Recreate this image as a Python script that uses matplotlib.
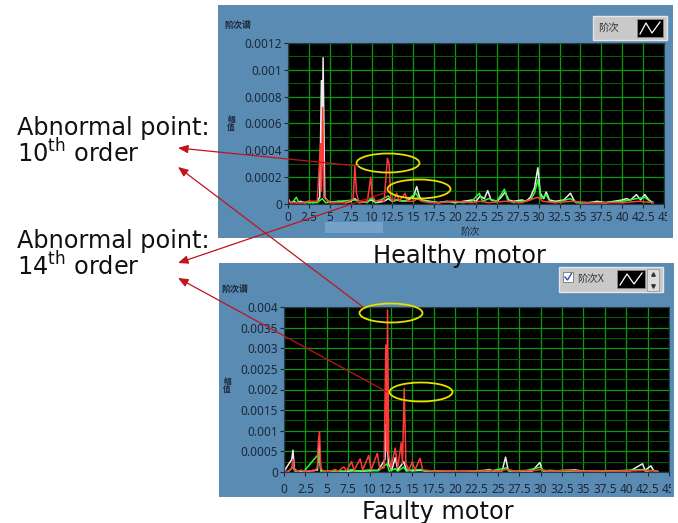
"""Healthy vs faulty motor order spectra (LabVIEW-style panels), output PNG."""

import matplotlib
matplotlib.use("Agg")
import matplotlib.pyplot as plt
from matplotlib.patches import Rectangle, Ellipse
from matplotlib.ticker import MultipleLocator, FuncFormatter

plt.rcParams["font.family"] = ["Noto Sans", "Noto Sans CJK SC", "DejaVu Sans"]
plt.rcParams["mathtext.fontset"] = "custom"
plt.rcParams["mathtext.rm"] = "DejaVu Sans"

# ── data: healthy motor (top panel) ───────────────────────────────────────────
healthy_white_order = [0, 0.3, 0.7, 1.0, 1.5, 2.0, 2.5, 3.0, 3.5, 3.8, 4.0, 4.1, 4.2, 4.4,
                       4.8, 5.5, 6.0, 7.0, 7.5, 8.0, 8.5, 9.5, 10.0, 10.5, 11.5, 12.0,
                       12.5, 13.0, 14.0, 15.0, 15.4, 15.7, 16.0, 17.0, 18.0, 19.0, 20.0,
                       21.0, 22.0, 22.5, 23.0, 23.5, 23.9, 24.3, 25.0, 25.5, 26.0, 26.4,
                       27.0, 28.0, 28.5, 29.0, 29.5, 29.9, 30.2, 30.6, 30.9, 31.3, 32.0,
                       33.0, 33.8, 34.3, 35.0, 36.0, 37.0, 38.0, 39.0, 40.0, 40.5, 41.0,
                       41.7, 42.2, 42.7, 43.2, 43.7]
healthy_white_amp = [4e-5, 1e-5, 2e-5, 1e-5, 2e-5, 1e-5, 2e-5, 1e-5, 2e-5, 5e-5, 9.2e-4, 3e-4,
                     1.09e-3, 5e-5, 2e-5, 1e-5, 2e-5, 1e-5, 2e-5, 4e-5, 1e-5, 2e-5, 3e-5, 1e-5,
                     2e-5, 4e-5, 2e-5, 3e-5, 2e-5, 5e-5, 1.3e-4, 6e-5, 3e-5, 2e-5, 1e-5, 2e-5,
                     1e-5, 2e-5, 3e-5, 2e-5, 6e-5, 4e-5, 1.0e-4, 3e-5, 2e-5, 5e-5, 9e-5, 3e-5,
                     2e-5, 3e-5, 2e-5, 5e-5, 1.2e-4, 2.7e-4, 8e-5, 4e-5, 9e-5, 3e-5, 2e-5,
                     3e-5, 8e-5, 2e-5, 1e-5, 1e-5, 2e-5, 1e-5, 2e-5, 3e-5, 4e-5, 3e-5,
                     7e-5, 3e-5, 7e-5, 3e-5, 1e-5]

healthy_green_order = [0.5, 1.0, 1.3, 2.0, 3.5, 4.1, 4.5, 6.0, 8.0, 9.5, 10.0, 10.5, 12.0,
                       12.5, 13.0, 14.0, 15.3, 15.8, 16.5, 18.0, 19.5, 21.0, 22.0, 22.9,
                       23.3, 24.0, 25.0, 25.9, 26.3, 27.0, 28.0, 29.0, 29.5, 29.9, 30.3,
                       30.9, 31.3, 32.0, 33.8, 34.5, 36.0, 38.0, 40.0, 41.7, 42.7, 43.5]
healthy_green_amp = [1e-5, 5e-5, 1e-5, 1e-5, 1e-5, 4e-5, 1e-5, 2e-5, 3e-5, 1e-5, 5e-5, 1e-5,
                     6e-5, 2e-5, 3e-5, 2e-5, 8e-5, 3e-5, 2e-5, 1e-5, 2e-5, 1e-5, 2e-5, 8e-5,
                     2e-5, 4e-5, 2e-5, 1.1e-4, 3e-5, 1e-5, 2e-5, 3e-5, 8e-5, 1.8e-4, 4e-5,
                     7e-5, 2e-5, 1e-5, 4e-5, 1e-5, 1e-5, 1e-5, 2e-5, 4e-5, 5e-5, 1e-5]

healthy_red_order = [0, 0.5, 1.5, 2.5, 3.5, 3.9, 4.0, 4.15, 4.3, 5.0, 6.0, 7.0, 7.8, 8.0,
                     8.2, 8.5, 9.5, 9.9, 10.1, 10.5, 11.0, 11.5, 11.9, 12.1, 12.3, 12.6,
                     13.0, 13.3, 14.0, 14.3, 15.0, 15.5, 16.0, 17.0, 18.0, 20.0, 22.0,
                     23.0, 24.0, 26.0, 28.0, 29.9, 30.5, 32.0, 34.0, 36.0, 40.0, 42.0, 43.7]
healthy_red_amp = [2e-5, 1e-5, 1e-5, 2e-5, 2e-5, 4.5e-4, 1e-4, 7.2e-4, 5e-5, 1e-5, 1e-5, 1e-5,
                   4e-5, 2.8e-4, 8e-5, 1e-5, 2e-5, 2.0e-4, 6e-5, 2e-5, 3e-5, 2e-5, 3.4e-4,
                   3.0e-4, 4e-5, 2e-5, 8e-5, 2e-5, 8e-5, 2e-5, 2e-5, 4e-5, 2e-5, 1e-5, 1e-5,
                   2e-5, 1e-5, 2e-5, 1e-5, 2e-5, 1e-5, 5e-5, 2e-5, 1e-5, 2e-5, 1e-5, 1e-5,
                   2e-5, 1e-5]

# ── data: faulty motor (bottom panel) ─────────────────────────────────────────
faulty_white_order = [0, 0.9, 1.05, 1.2, 1.6, 2.5, 3.9, 4.1, 4.3, 5.0, 6.0, 7.0, 8.0, 9.0,
                      10.0, 11.0, 11.8, 11.95, 12.05, 12.2, 12.6, 13.0, 13.3, 14.0, 14.3,
                      15.0, 16.0, 17.0, 18.0, 20.0, 22.0, 23.5, 24.0, 24.5, 25.5, 25.9,
                      26.2, 27.0, 28.0, 29.0, 29.9, 30.2, 31.0, 32.0, 33.0, 34.0, 35.0,
                      37.0, 39.0, 40.5, 41.9, 42.2, 42.9, 43.2, 43.7]
faulty_white_amp = [2e-5, 3e-4, 5.3e-4, 8e-5, 1e-5, 1e-5, 5e-5, 7e-4, 4e-5, 1e-5, 3e-5, 1e-5,
                    3e-5, 2e-5, 3e-5, 4e-5, 3e-4, 1.16e-3, 1.0e-3, 2e-4, 5e-5, 3.5e-4, 5e-5,
                    2.5e-4, 5e-5, 3e-5, 4e-5, 2e-5, 2e-5, 1e-5, 2e-5, 4e-5, 6e-5, 2e-5, 3e-5,
                    3.6e-4, 5e-5, 2e-5, 3e-5, 2e-5, 2.3e-4, 4e-5, 2e-5, 3e-5, 4e-5, 5e-5,
                    2e-5, 2e-5, 3e-5, 3e-5, 2e-4, 4e-5, 1.5e-4, 3e-5, 1e-5]

faulty_green_order = [0.5, 1.05, 1.3, 2.0, 2.3, 4.1, 4.3, 5.0, 6.0, 7.0, 8.0, 8.3, 9.0,
                      10.0, 11.0, 12.05, 12.3, 13.0, 13.3, 14.0, 14.3, 15.0, 16.0, 16.5,
                      18.0, 19.0, 20.0, 22.0, 24.0, 26.0, 26.3, 28.0, 30.0, 30.3, 31.0,
                      33.0, 35.0, 38.0, 42.0, 42.3, 43.0, 43.7]
faulty_green_amp = [1e-5, 1.2e-4, 1e-5, 4e-5, 1e-5, 4.5e-4, 2e-5, 1e-5, 3e-5, 2e-5, 6e-5,
                    1e-5, 3e-5, 5e-5, 3e-5, 2e-4, 2e-5, 8e-5, 2e-5, 1.2e-4, 2e-5, 5e-5,
                    6e-5, 1e-5, 3e-5, 1e-5, 2e-5, 1e-5, 2e-5, 1e-4, 1e-5, 2e-5, 1.2e-4,
                    2e-5, 4e-5, 2e-5, 1e-5, 2e-5, 6e-5, 1e-5, 4e-5, 1e-5]

faulty_red_order = [0, 0.5, 0.9, 1.05, 1.2, 1.6, 2.0, 2.5, 3.0, 3.5, 3.9, 4.0, 4.15, 4.3,
                    4.6, 5.2, 6.0, 6.3, 7.0, 7.3, 7.9, 8.2, 8.9, 9.2, 9.9, 10.2, 10.9,
                    11.2, 11.7, 11.9, 12.0, 12.1, 12.25, 12.5, 13.0, 13.3, 13.7, 13.85,
                    14.05, 14.25, 14.6, 15.0, 15.3, 15.9, 16.2, 16.8, 17.5, 18.5, 20.0,
                    21.0, 22.0, 23.0, 24.0, 25.0, 26.0, 27.0, 28.0, 29.0, 30.0, 31.0,
                    32.0, 33.0, 34.0, 35.0, 36.0, 37.0, 38.0, 39.0, 40.0, 41.0, 42.0,
                    43.0, 43.7]
faulty_red_amp = [3e-5, 2e-5, 1e-4, 3e-4, 5e-5, 2e-5, 4e-5, 2e-5, 3e-5, 2e-5, 1e-4, 7e-4,
                  9.8e-4, 1e-4, 2e-5, 1e-5, 6e-5, 2e-5, 1.2e-4, 3e-5, 2.5e-4, 4e-5, 3.2e-4,
                  5e-5, 4e-4, 6e-5, 4.5e-4, 8e-5, 1e-4, 3.08e-3, 5e-4, 3.93e-3, 4e-4, 1e-4,
                  5.8e-4, 1e-4, 7.1e-4, 2e-4, 2.03e-3, 2e-4, 5e-5, 2.5e-4, 5e-5, 3.3e-4,
                  5e-5, 4e-5, 2e-5, 3e-5, 2e-5, 2e-5, 3e-5, 2e-5, 4e-5, 2e-5, 6e-5, 2e-5,
                  4e-5, 3e-5, 6e-5, 2e-5, 3e-5, 4e-5, 3e-5, 2e-5, 2e-5, 3e-5, 2e-5, 2e-5,
                  3e-5, 3e-5, 4e-5, 3e-5, 1e-5]

# ── 畫布 (pixel helpers) ──────────────────────────────────────────────────────
W, H = 678, 523
PANEL_BLUE = "#5a8bb3"
TXT = "#1b2838"


def frac(x0, y0, x1, y1):
    return [x0 / W, 1 - y1 / H, (x1 - x0) / W, (y1 - y0) / H]


fig = plt.figure(figsize=(W / 100, H / 100), dpi=100)
fig.patch.set_facecolor("white")

bg = fig.add_axes([0, 0, 1, 1], zorder=-1)
bg.set_xlim(0, W); bg.set_ylim(H, 0); bg.axis("off")
fg = fig.add_axes([0, 0, 1, 1], zorder=5)
fg.set_xlim(0, W); fg.set_ylim(H, 0); fg.axis("off")
fg.patch.set_alpha(0)

bg.add_patch(Rectangle((218, 5), 455, 233, facecolor=PANEL_BLUE, edgecolor="none"))
bg.add_patch(Rectangle((219, 263), 455, 234, facecolor=PANEL_BLUE, edgecolor="none"))
bg.add_patch(Rectangle((325, 222), 58, 11, facecolor="#74a2c9", edgecolor="none"))
# tick labels are cut a little beyond the plot area, as in LabVIEW
clip_top = Rectangle((218, 5), 449, 233, transform=bg.transData)
clip_bot = Rectangle((219, 263), 452, 234, transform=bg.transData)


def spectrum_axes(rect, ymax, ymajor, yminor, clip, xpad, ypad):
    ax = fig.add_axes(frac(*rect), zorder=1)
    ax.set_facecolor("black")
    ax.set_xlim(0, 45)
    ax.set_ylim(0, ymax)
    ax.xaxis.set_major_locator(MultipleLocator(2.5))
    ax.yaxis.set_major_locator(MultipleLocator(ymajor))
    ax.yaxis.set_minor_locator(MultipleLocator(yminor))
    fmt = FuncFormatter(lambda v, p: f"{v:g}")
    ax.xaxis.set_major_formatter(fmt)
    ax.yaxis.set_major_formatter(fmt)
    ax.grid(True, which="major", color="#0a9a0a", lw=0.9)
    ax.grid(True, which="minor", axis="y", color="#0b5a0b", lw=0.8)
    ax.set_axisbelow(True)
    ax.tick_params(which="major", direction="out", length=3, width=0.8, color=TXT,
                   labelsize=8.5, labelcolor=TXT)
    ax.tick_params(axis="x", pad=xpad)
    ax.tick_params(axis="y", pad=ypad)
    ax.tick_params(which="minor", length=0)
    for sp in ax.spines.values():
        sp.set_color("#2a3a4a")
        sp.set_linewidth(0.8)
    for lab in ax.get_xticklabels():
        lab.set_clip_path(clip)
    return ax


ax1 = spectrum_axes((288, 43, 664, 204), 0.0012, 0.0002, 0.0001, clip_top, 2, 1.5)
ax2 = spectrum_axes((284, 307, 669, 472), 0.004, 0.0005, 0.00025, clip_bot, 5, 1.5)

for ax, series in [
    (ax1, [(healthy_white_order, healthy_white_amp, "#ececec"),
           (healthy_green_order, healthy_green_amp, "#2cff2c"),
           (healthy_red_order, healthy_red_amp, "#ff3a3a")]),
    (ax2, [(faulty_white_order, faulty_white_amp, "#ececec"),
           (faulty_green_order, faulty_green_amp, "#2cff2c"),
           (faulty_red_order, faulty_red_amp, "#ff3a3a")]),
]:
    for xs, ys, c in series:
        ax.plot(xs, ys, color=c, lw=1.1)

# ── panel decorations (LabVIEW look) ──────────────────────────────────────────
fg.text(224, 25, "阶次谱", fontsize=6.5, color=TXT, va="center", fontweight="bold")
fg.text(221, 289, "阶次谱", fontsize=6.5, color=TXT, va="center", fontweight="bold")
fg.text(231, 124, "幅\n值", fontsize=5.5, color=TXT, ha="center", va="center",
        linespacing=0.9, fontweight="bold")
fg.text(227, 386, "幅\n值", fontsize=5.5, color=TXT, ha="center", va="center",
        linespacing=0.9, fontweight="bold")
fg.text(470, 232, "阶次", fontsize=7, color=TXT, ha="center", va="center")

# top legend
fg.add_patch(Rectangle((593, 16), 74, 24, facecolor="#c9c9c9", edgecolor="#e6e6e6", lw=1))
fg.text(598, 28, "阶次", fontsize=7.5, color="#333", va="center")
fg.add_patch(Rectangle((637, 19), 26, 18, facecolor="black", edgecolor="#888", lw=0.6))
fg.plot([640, 646, 652, 660], [34, 23, 33, 22], color="white", lw=0.9)

# bottom legend
fg.add_patch(Rectangle((559, 267), 104, 25, facecolor="#c9c9c9", edgecolor="#e6e6e6", lw=1))
fg.add_patch(Rectangle((563, 272), 10, 10, facecolor="white", edgecolor="#777", lw=0.6))
fg.plot([565, 567.5, 571.5], [277, 280, 273.5], color="#3050c0", lw=1)
fg.text(577, 279, "阶次X", fontsize=7.5, color="#333", va="center")
fg.add_patch(Rectangle((617, 270), 28, 18, facecolor="black", edgecolor="#888", lw=0.6))
fg.plot([620, 627, 634, 642], [285, 274, 284, 273], color="white", lw=0.9)
fg.add_patch(Rectangle((647, 269), 12, 22, facecolor="#dcdcdc", edgecolor="#999", lw=0.6))
fg.plot([653], [274], marker="^", ms=2.5, color="#333")
fg.plot([653], [286], marker="v", ms=2.5, color="#333")

# ── annotations ───────────────────────────────────────────────────────────────
for cx, cy in [(388, 163), (419, 189), (391, 313), (421, 392)]:
    fg.add_patch(Ellipse((cx, cy), 63, 19, fill=False, edgecolor="#e6e000", lw=1.3))

arrow_kw = dict(arrowstyle="-|>,head_length=0.6,head_width=0.25", color="#c0141c",
                lw=0.9, shrinkA=0, shrinkB=0)
for head, tail in [((178, 148), (358, 166)), ((178, 167), (363, 307)),
                   ((178, 263), (387, 192)), ((178, 278), (387, 392))]:
    fg.annotate("", xy=head, xytext=tail, arrowprops=arrow_kw)

big = dict(fontsize=17.3, color="#111111", va="baseline", family="DejaVu Sans")
fg.text(17, 135, "Abnormal point:", **big)
fg.text(17, 162, "10$^{\\mathrm{th}}$ order", **big)
fg.text(17, 248, "Abnormal point:", **big)
fg.text(17, 275, "14$^{\\mathrm{th}}$ order", **big)
fg.text(459, 263, "Healthy motor", ha="center", **big)
fg.text(438, 519, "Faulty motor", ha="center", **big)

plt.savefig("out.png", dpi=100, facecolor=fig.get_facecolor())
print("saved: out.png")
